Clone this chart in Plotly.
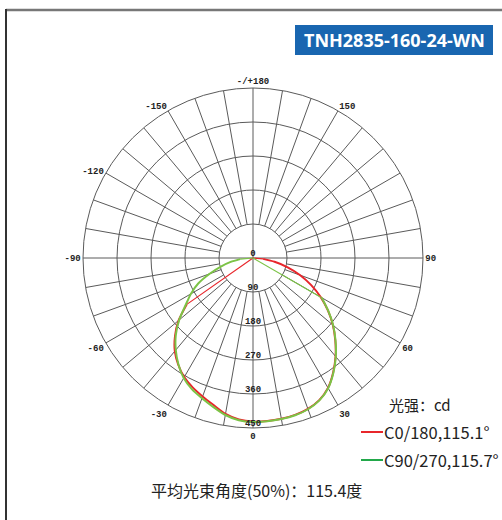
import plotly.graph_objects as go

W, H = 502, 520

# ---- data (gamma angles in degrees, luminous intensity in cd) ----
gamma = [0, 5, 10, 15, 20, 25, 30, 35, 40, 45, 50, 55, 60, 65, 70, 75, 80, 85, 90]
c0 = [433, 433, 432, 430, 425, 415, 397, 370, 340, 308, 276, 242, 207, 170, 133, 95, 58, 27, 0]
c180 = [433, 429, 419, 403, 390, 378, 364, 345, 322, 292, 257, 214, 0, 0, 0, 0, 0, 0, 0]
c90 = [434, 434, 433, 431, 426, 416, 398, 371, 341, 309, 277, 243, 210, 0, 0, 0, 0, 0, 0]
c270 = [434, 431, 422, 408, 395, 383, 367, 344, 318, 289, 255, 218, 190, 160, 122, 88, 60, 34, 0]

radial_ticks = [0, 90, 180, 270, 360, 450]
ang_tickvals = [0, 30, 60, 90, 120, 150, 180, 210, 240, 270, 300, 330]
ang_ticktext = ["0", "30", "60", "90", "", "150", "-/+180", "-150", "-120", "-90", "-60", "-30"]

series_names = ["C0/180,115.1°", "C90/270,115.7°"]
title_text = "TNH2835-160-24-WN"
unit_text = "光强：cd"
beam_text = "平均光束角度(50%)：115.4度"

RED = "#e8262b"
GREEN = "#7cc346"
GREEN_LEG = "#22a84a"
GRID = "#5a5a5a"
MONO = "Liberation Mono"
CJK = "Noto Sans CJK SC"


def half_polyline(left, right):
    """Return (smooth arc part, straight cut-off part) for one C-plane pair."""
    theta = [-g for g in reversed(gamma)] + gamma[1:]
    r = list(reversed(left)) + right[1:]
    pos = [i for i, v in enumerate(r) if v > 0]
    i0, i1 = pos[0], pos[-1]
    arc_t, arc_r = theta[i0:i1 + 1], r[i0:i1 + 1]
    cut_t, cut_r = [], []
    if i0 > 0:
        cut_t += [theta[i0 - 1], theta[i0], None]
        cut_r += [r[i0 - 1], r[i0], None]
    if i1 < len(r) - 1:
        cut_t += [theta[i1], theta[i1 + 1]]
        cut_r += [r[i1], r[i1 + 1]]
    return (arc_t, arc_r), (cut_t, cut_r)


fig = go.Figure()

# spokes every 10 deg (outside inner ring), full lines through centre on axes
sr, st = [], []
for a in range(0, 360, 10):
    if a % 90 == 0:
        continue
    sr += [90, 450, None]
    st += [a, a, None]
fig.add_trace(go.Scatterpolar(r=sr, theta=st, mode="lines",
                              line=dict(color=GRID, width=1), hoverinfo="skip", showlegend=False))
fig.add_trace(go.Scatterpolar(r=[450, 0, 450, None, 450, 0, 450], theta=[90, 0, -90, None, 0, 0, 180],
                              mode="lines", line=dict(color=GRID, width=1), hoverinfo="skip", showlegend=False))

# data curves
for (left, right), col, name in [((c180, c0), RED, series_names[0]),
                                 ((c270, c90), GREEN, series_names[1])]:
    (at, ar), (ct, cr) = half_polyline(left, right)
    fig.add_trace(go.Scatterpolar(r=ar, theta=at, mode="lines", name=name,
                                  line=dict(color=col, width=2, shape="spline", smoothing=0.7),
                                  showlegend=False))
    fig.add_trace(go.Scatterpolar(r=cr, theta=ct, mode="lines", name=name,
                                  line=dict(color=col, width=1.2), showlegend=False))

# radial labels along the 0-degree line
fig.add_trace(go.Scatterpolar(r=radial_ticks, theta=[0] * len(radial_ticks), mode="text",
                              text=[str(v) for v in radial_ticks], textposition="top center",
                              textfont=dict(family=MONO, size=9, color="#222", weight="bold"),
                              hoverinfo="skip", showlegend=False))

fig.update_layout(
    width=W, height=H, margin=dict(l=0, r=0, t=0, b=0),
    paper_bgcolor="white", plot_bgcolor="white",
    polar=dict(
        domain=dict(x=[83 / W, 423 / W], y=[1 - 428 / H, 1 - 88 / H]),
        bgcolor="white",
        radialaxis=dict(range=[0, 450], tickvals=radial_ticks[1:], showticklabels=False, ticks="",
                        showline=False, gridcolor=GRID, gridwidth=1),
        angularaxis=dict(rotation=-90, direction="counterclockwise", showgrid=False,
                         tickvals=ang_tickvals, ticktext=ang_ticktext, ticks="",
                         tickfont=dict(family=MONO, size=9, color="#222", weight="bold"),
                         showline=True, linecolor=GRID, linewidth=1),
    ),
)

def px(x):
    return x / W

def py(y):
    return 1 - y / H

shapes = [
    dict(type="line", xref="paper", yref="paper", x0=px(6), x1=px(W + 5), y0=py(10), y1=py(10),
         line=dict(color="#777", width=2.5)),
    dict(type="line", xref="paper", yref="paper", x0=px(6), x1=px(6), y0=py(9), y1=py(H + 5),
         line=dict(color="#333", width=2)),
    dict(type="rect", xref="paper", yref="paper", x0=px(295), x1=px(493), y0=py(55), y1=py(25),
         fillcolor="#1966b0", line=dict(width=0)),
    dict(type="line", xref="paper", yref="paper", x0=px(361), x1=px(383), y0=py(432), y1=py(432),
         line=dict(color=RED, width=2)),
    dict(type="line", xref="paper", yref="paper", x0=px(361), x1=px(383), y0=py(460), y1=py(460),
         line=dict(color=GREEN_LEG, width=2)),
]
fig.update_layout(shapes=shapes)

ann = [
    dict(x=px(394), y=py(40), text=title_text, font=dict(family="Noto Sans", size=18, color="white", weight="bold")),
    dict(x=px(387), y=py(404), text=unit_text, xanchor="left", font=dict(family=CJK, size=15, color="#222")),
    dict(x=px(382), y=py(432), text=series_names[0], xanchor="left", font=dict(family=CJK, size=16.5, color="#222")),
    dict(x=px(382), y=py(460), text=series_names[1], xanchor="left", font=dict(family=CJK, size=16.5, color="#222")),
    dict(x=px(256), y=py(490), text=beam_text, font=dict(family=CJK, size=16, color="#222")),
]
for a in ann:
    a.update(xref="paper", yref="paper", showarrow=False)
    a.setdefault("xanchor", "center")
    a["yanchor"] = "middle"
fig.update_layout(annotations=ann)

fig.write_html("out.html", config={"displayModeBar": False},
               post_script="document.body.style.margin='0';document.body.style.overflow='hidden';")
